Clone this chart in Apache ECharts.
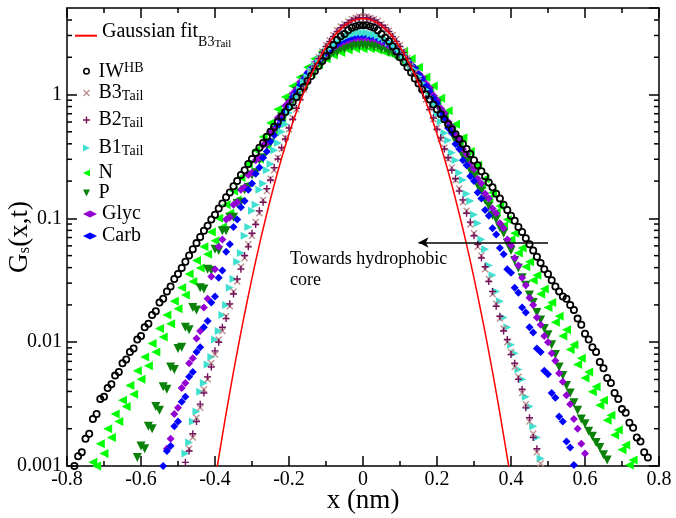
<!DOCTYPE html>
<html>
<head>
<meta charset="utf-8">
<script src="https://cdn.jsdelivr.net/npm/echarts@6/dist/echarts.min.js"></script>
<style>
html, body { margin: 0; background: #fff; }
#chart { width: 676px; height: 518px; }
</style>
</head>
<body>
<div id="chart"></div>
<script>
"use strict"

// sample positions (nm), shared by every scatter set
const xs = [-0.80,-0.79,-0.78,-0.77,-0.76,-0.75,-0.74,-0.73,-0.72,-0.71,
    -0.70,-0.69,-0.68,-0.67,-0.66,-0.65,-0.64,-0.63,-0.62,-0.61,
    -0.60,-0.59,-0.58,-0.57,-0.56,-0.55,-0.54,-0.53,-0.52,-0.51,
    -0.50,-0.49,-0.48,-0.47,-0.46,-0.45,-0.44,-0.43,-0.42,-0.41,
    -0.40,-0.39,-0.38,-0.37,-0.36,-0.35,-0.34,-0.33,-0.32,-0.31,
    -0.30,-0.29,-0.28,-0.27,-0.26,-0.25,-0.24,-0.23,-0.22,-0.21,
    -0.20,-0.19,-0.18,-0.17,-0.16,-0.15,-0.14,-0.13,-0.12,-0.11,
    -0.10,-0.09,-0.08,-0.07,-0.06,-0.05,-0.04,-0.03,-0.02,-0.01,
    0,0.01,0.02,0.03,0.04,0.05,0.06,0.07,0.08,0.09,
    0.10,0.11,0.12,0.13,0.14,0.15,0.16,0.17,0.18,0.19,
    0.20,0.21,0.22,0.23,0.24,0.25,0.26,0.27,0.28,0.29,
    0.30,0.31,0.32,0.33,0.34,0.35,0.36,0.37,0.38,0.39,
    0.40,0.41,0.42,0.43,0.44,0.45,0.46,0.47,0.48,0.49,
    0.50,0.51,0.52,0.53,0.54,0.55,0.56,0.57,0.58,0.59,
    0.60,0.61,0.62,0.63,0.64,0.65,0.66,0.67,0.68,0.69,
    0.70,0.71,0.72,0.73,0.74,0.75,0.76,0.77,0.78,0.79,0.80];

// IW^HB, starts at x = -0.78
const iwFrom = -0.78;
const iwVals = [0.00100,0.00120,0.00129,0.00166,0.00182,0.0024,0.00263,0.00347,0.00363,0.00427,
    0.00457,0.00537,0.00575,0.00676,0.00724,0.00832,0.00891,0.0105,0.0112,0.0132,
    0.0141,0.0166,0.0178,0.0209,0.0224,0.0257,0.0282,0.0324,0.0355,0.0398,
    0.0447,0.0501,0.0562,0.0631,0.0708,0.0794,0.0871,0.0977,0.107,0.120,
    0.132,0.148,0.162,0.182,0.200,0.224,0.245,0.275,0.302,0.339,
    0.372,0.407,0.457,0.501,0.550,0.603,0.661,0.724,0.794,0.871,
    0.955,1.047,1.148,1.288,1.413,1.549,1.698,1.862,2.042,2.291,
    2.512,2.754,2.951,3.090,3.311,3.467,3.548,3.631,
    3.631,
    3.63,3.55,3.47,3.31,3.09,2.88,2.69,2.45,2.24,2.00,
    1.82,1.66,1.51,1.35,1.23,1.10,1.00,0.912,0.832,0.759,
    0.692,0.631,0.575,0.525,0.479,0.437,0.398,0.363,0.331,0.295,
    0.269,0.240,0.219,0.195,0.178,0.158,0.145,0.129,0.117,0.105,
    0.0955,0.0851,0.0776,0.0692,0.0617,0.0550,0.0490,0.0437,0.0389,0.0355,
    0.0316,0.0282,0.0257,0.0234,0.0224,0.0200,0.0182,0.0155,0.0138,0.0117,
    0.0105,0.00912,0.00832,0.00692,0.00617,0.00513,0.00468,0.00389,0.00347,0.00288,
    0.00269,0.00224,0.00204,0.0017,0.00158,0.00129,0.00117,0.00095];

const b3From = -0.48;
const b3Vals = [0.00098,0.00138,0.0017,0.00245,0.00295,0.00417,0.00501,0.00676,0.00794,0.0105,
    0.0123,0.0162,0.0195,0.0257,0.0309,0.0407,0.0479,0.0617,0.0724,0.0933,
    0.110,0.141,0.166,0.209,0.245,0.309,0.363,0.447,0.525,0.646,
    0.759,0.933,1.10,1.29,1.51,1.74,2.00,2.24,2.51,2.75,
    3.02,3.31,3.55,3.72,3.89,4.07,4.17,4.27,
    4.27,
    4.27,4.17,4.07,3.94,3.72,3.51,3.27,3.02,2.79,2.51,
    2.24,1.97,1.74,1.50,1.29,1.10,0.912,0.776,0.631,0.537,
    0.437,0.372,0.302,0.257,0.204,0.174,0.135,0.115,0.0891,0.0759,
    0.0589,0.0501,0.0389,0.0324,0.0245,0.0204,0.0155,0.0129,0.0100,0.00832,
    0.00631,0.00525,0.00389,0.00316,0.00229,0.00182,0.00129,0.00105];

const b2From = -0.48;
const b2Vals = [0.00107,0.00132,0.00182,0.00229,0.00316,0.00389,0.00525,0.00631,0.00851,0.0100,
    0.0132,0.0155,0.0204,0.0245,0.0324,0.0389,0.0501,0.0589,0.0759,0.0891,
    0.115,0.135,0.174,0.204,0.257,0.302,0.372,0.437,0.537,0.631,
    0.776,0.912,1.10,1.26,1.48,1.70,1.95,2.19,2.45,2.69,
    2.95,3.24,3.47,3.63,3.80,3.98,4.07,4.17,
    4.17,
    4.17,4.07,3.98,3.80,3.63,3.47,3.24,2.95,2.69,2.45,
    2.19,1.95,1.70,1.48,1.26,1.07,0.933,0.759,0.646,0.525,
    0.447,0.363,0.309,0.245,0.209,0.166,0.141,0.110,0.0933,0.0724,
    0.0617,0.0479,0.0407,0.0309,0.0257,0.0195,0.0162,0.0123,0.0105,0.00794,
    0.00676,0.00501,0.00417,0.00295,0.00245,0.0017,0.00138,0.00098];

const b1From = -0.49;
const b1Vals = [0.00093,0.00126,0.00155,0.00229,0.00275,0.00398,0.00468,0.00661,0.00759,0.0105,
    0.0123,0.0166,0.0200,0.0275,0.0324,0.0447,0.0525,0.0724,0.0851,0.115,
    0.129,0.170,0.191,0.245,0.275,0.355,0.407,0.501,0.575,0.708,
    0.813,0.955,1.10,1.26,1.38,1.55,1.74,1.91,2.04,2.21,
    2.37,2.51,2.66,2.79,2.88,2.99,3.05,3.13,3.16,
    3.16,
    3.16,3.09,3.05,2.99,2.88,2.79,2.63,2.51,2.34,2.21,
    2.04,1.88,1.72,1.57,1.40,1.24,1.10,0.955,0.832,0.692,
    0.603,0.490,0.427,0.339,0.295,0.234,0.204,0.158,0.138,0.107,
    0.0912,0.0676,0.0562,0.0417,0.0347,0.0257,0.0214,0.0158,0.0132,0.00955,
    0.00813,0.00603,0.00501,0.00363,0.00302,0.00209,0.0017,0.00115,0.00091];

const nFrom = -0.73;
const nVals = [0.00107,0.00100,0.00151,0.00126,0.0020,0.0017,0.00263,0.00229,0.00339,0.00302,
    0.00447,0.0038,0.00589,0.00501,0.00759,0.00646,0.00977,0.00832,0.0129,0.0110,
    0.0166,0.0141,0.0214,0.0186,0.0275,0.0240,0.0355,0.0309,0.0457,0.0398,
    0.0589,0.0513,0.0776,0.0661,0.100,0.0851,0.129,0.110,0.166,0.141,
    0.214,0.182,0.275,0.234,0.355,0.302,0.457,0.389,0.589,0.501,
    0.759,0.646,0.955,0.813,1.17,1.02,1.38,1.23,1.66,1.48,
    1.95,1.74,2.24,1.95,2.40,2.09,2.57,2.19,2.69,2.29,
    2.75,2.34,2.82,
    2.34,
    2.75,2.34,2.75,2.29,2.69,2.19,2.57,2.09,2.40,1.95,
    2.24,1.74,1.95,1.48,1.66,1.23,1.38,1.02,1.17,0.832,
    0.933,0.661,0.741,0.513,0.575,0.398,0.447,0.309,0.347,0.240,
    0.269,0.186,0.209,0.145,0.162,0.112,0.126,0.0871,0.0977,0.0676,
    0.0759,0.0525,0.0575,0.0407,0.0447,0.0316,0.0347,0.0245,0.0269,0.0191,
    0.0209,0.0145,0.0162,0.0112,0.0126,0.00871,0.00955,0.00661,0.00741,0.00513,
    0.00575,0.00398,0.00437,0.00309,0.00339,0.00234,0.00257,0.00178,0.00195,0.00135,
    0.00148,0.00102,0.00112];

const pFrom = -0.62;
const pVals = [0.00095,0.00117,0.00145,0.00138,0.00209,0.0020,0.00302,0.00282,0.00437,0.00417,
    0.00631,0.00603,0.00891,0.00912,0.0132,0.0126,0.0191,0.0182,0.0275,0.0269,
    0.0389,0.0380,0.0562,0.0550,0.0794,0.0794,0.102,0.102,0.132,0.135,
    0.170,0.178,0.224,0.234,0.295,0.309,0.389,0.407,0.513,0.537,
    0.661,0.692,0.851,0.891,1.07,1.12,1.32,1.35,1.55,1.58,
    1.80,1.82,2.00,2.04,2.19,2.21,2.34,2.34,2.45,2.43,
    2.51,2.48,
    2.51,
    2.48,2.51,2.43,2.45,2.34,2.34,2.21,2.19,2.04,2.00,
    1.84,1.78,1.62,1.55,1.38,1.30,1.14,1.06,0.912,0.841,
    0.716,0.653,0.556,0.501,0.422,0.380,0.320,0.288,0.243,0.219,
    0.184,0.166,0.140,0.126,0.106,0.0977,0.0841,0.0759,0.0631,0.0550,
    0.0457,0.0398,0.0331,0.0288,0.0240,0.0209,0.0174,0.0151,0.0129,0.0115,
    0.00955,0.00794,0.00631,0.00537,0.00447,0.00389,0.00324,0.00282,0.0024,0.00219,
    0.00191,0.00174,0.00155,0.00141,0.00123,0.00112,0.00098];

const glycFrom = -0.54;
const glycVals = [0.00091,0.00138,0.00166,0.00263,0.00295,0.00427,0.00468,0.00676,0.00741,0.0107,
    0.0123,0.0191,0.0224,0.0339,0.0389,0.0589,0.0676,0.0977,0.102,0.129,
    0.135,0.170,0.178,0.224,0.234,0.295,0.309,0.389,0.407,0.501,
    0.525,0.646,0.676,0.813,0.871,1.02,1.10,1.26,1.35,1.51,
    1.62,1.78,1.88,2.04,2.14,2.29,2.40,2.51,2.60,2.69,
    2.75,2.82,2.85,2.88,
    2.88,
    2.88,2.85,2.82,2.75,2.66,2.60,2.48,2.40,2.26,2.16,
    2.02,1.91,1.74,1.64,1.48,1.38,1.23,1.13,0.989,0.902,
    0.776,0.708,0.603,0.550,0.468,0.427,0.363,0.331,0.275,0.251,
    0.209,0.191,0.158,0.145,0.120,0.110,0.0912,0.0832,0.0676,0.0603,
    0.0479,0.0417,0.0331,0.0288,0.0229,0.0200,0.0158,0.0138,0.0112,0.0100,
    0.00813,0.00708,0.00562,0.00479,0.00372,0.00316,0.0024,0.002,0.00151,0.00126,
    0.00095];

const carbFrom = -0.54;
const carbVals = [0.00100,0.00132,0.00145,0.00209,0.00229,0.00331,0.00363,0.00525,0.00575,0.00832,
    0.00912,0.0132,0.0148,0.0209,0.0234,0.0331,0.0380,0.0537,0.0617,0.0851,
    0.0977,0.123,0.138,0.170,0.191,0.229,0.257,0.309,0.347,0.417,
    0.468,0.562,0.617,0.741,0.813,0.955,1.05,1.20,1.32,1.48,
    1.58,1.76,1.88,2.04,2.19,2.32,2.45,2.57,2.69,2.79,
    2.88,2.92,2.99,3.02,
    3.02,
    3.02,2.95,2.95,2.85,2.79,2.69,2.57,2.45,2.34,2.19,
    2.04,1.91,1.74,1.62,1.45,1.33,1.17,1.07,0.933,0.851,
    0.708,0.646,0.537,0.490,0.398,0.363,0.295,0.269,0.219,0.200,
    0.162,0.145,0.117,0.105,0.0832,0.0741,0.0575,0.0513,0.0389,0.0363,
    0.0275,0.0251,0.0191,0.0174,0.0132,0.0120,0.00891,0.00832,0.00589,0.00550,
    0.00389,0.00355,0.00251,0.00229,0.00158,0.00141,0.00102,0.00089];

// Gaussian fit to B3_Tail
const fitX = [-0.40,-0.38,-0.36,-0.34,-0.32,-0.30,-0.28,-0.26,-0.24,-0.22,-0.20,-0.18,-0.16,-0.14,-0.12,-0.10,-0.08,-0.06,-0.04,-0.02,
    0,0.02,0.04,0.06,0.08,0.10,0.12,0.14,0.16,0.18,0.20,0.22,0.24,0.26,0.28,0.30,0.32,0.34,0.36,0.38,0.40];
const fitVals = [0.00077,0.00177,0.00393,0.00834,0.0169,0.0329,0.0613,0.109,0.187,0.306,0.481,0.723,1.04,1.44,1.90,2.40,2.92,3.39,3.77,4.02,
    4.11,4.02,3.77,3.39,2.92,2.40,1.90,1.44,1.04,0.723,0.481,0.306,0.187,0.109,0.0613,0.0329,0.0169,0.00834,0.00393,0.00177,0.00077];

const yMinor = [0.002,0.003,0.004,0.005,0.006,0.007,0.008,0.009,
    0.02,0.03,0.04,0.05,0.06,0.07,0.08,0.09,
    0.2,0.3,0.4,0.5,0.6,0.7,0.8,0.9,
    2,3,4];

// annotation arrow, in data units
const arrowY = 0.0638, arrowFrom = 0.5, arrowTo = 0.15;

const FONT = "Liberation Serif";
const ring = "path://M5,0A5,5 0 1,1 4.99,0ZM5,2.2A2.8,2.8 0 1,0 5.01,2.2Z";
const xMark = "path://M0,1.4L1.4,0L5,3.6L8.6,0L10,1.4L6.4,5L10,8.6L8.6,10L5,6.4L1.4,10L0,8.6L3.6,5Z";
const plus = "path://M4,0H6V4H10V6H6V10H4V6H0V4H4Z";
const triR = "path://M0,0L10,5L0,10Z";
const triL = "path://M10,0L0,5L10,10Z";
const triD = "path://M0,0L10,0L5,10Z";

function pts(from, vals)
{
    const i0 = xs.findIndex(x => Math.abs(x - from) < 1e-9);
    return vals.map((v, i) => [xs[i0 + i], v]);
}

function scat(name, from, vals, symbol, size, color)
{
    return {
        name, type: "scatter", data: pts(from, vals),
        symbol, symbolSize: size,
        itemStyle: { color, opacity: 1 },
        clip: true, silent: true
    };
}

const black = { color: "#000", width: 1.5 };
const xAxisBase = {
    type: "value", min: -0.8, max: 0.8, interval: 0.2,
    axisLine: { onZero: false, lineStyle: black },
    axisTick: { inside: true, length: 10, lineStyle: black },
    minorTick: { show: true, splitNumber: 2, length: 5, lineStyle: black },
    splitLine: { show: false }
};
const yAxisBase = {
    type: "log", logBase: 10, min: 0.001, max: 5,
    axisLine: { onZero: false, lineStyle: black },
    axisTick: { inside: true, length: 10, lineStyle: black },
    splitLine: { show: false }
};

const txt = { fontFamily: FONT, color: "#000" };
const legendBase = {
    orient: "vertical", left: 83, padding: 0, itemWidth: 14, itemHeight: 7,
    selectedMode: false,
    textStyle: Object.assign({ fontSize: 20 }, txt)
};
const subRich = {
    m: Object.assign({ fontSize: 20, lineHeight: 20, verticalAlign: "top", padding: [0, 0, 6, 0] }, txt),
    s: Object.assign({ fontSize: 14, lineHeight: 14, verticalAlign: "bottom" }, txt)
};
function leg(name, top, extra)
{
    return Object.assign({}, legendBase, { top, data: [name] }, extra || {});
}
const legends = [
    leg({ name: "Gaussian fit", icon: "rect" }, 21.7, {
        left: 75, itemWidth: 22, itemHeight: 2,
        formatter: "{m|Gaussian fit}{b|B3}{t|Tail}",
        textStyle: Object.assign({ fontSize: 20, rich: {
            m: Object.assign({ fontSize: 20, lineHeight: 20, verticalAlign: "top", padding: [0, 0, 10, 0] }, txt),
            b: Object.assign({ fontSize: 14, lineHeight: 28, verticalAlign: "bottom" }, txt),
            t: Object.assign({ fontSize: 11, lineHeight: 8, verticalAlign: "bottom" }, txt)
        } }, txt)
    }),
    leg("IW", 55.3, {
        formatter: "{m|IW}{p|HB}",
        textStyle: Object.assign({ fontSize: 20, rich: {
            m: Object.assign({ fontSize: 20, lineHeight: 20, verticalAlign: "bottom", padding: [6, 0, 0, 0] }, txt),
            p: Object.assign({ fontSize: 14, lineHeight: 14, verticalAlign: "top" }, txt)
        } }, txt)
    }),
    leg("B3", 83, { formatter: "{m|B3}{s|Tail}", textStyle: Object.assign({ fontSize: 20, rich: subRich }, txt) }),
    leg("B2", 110, { formatter: "{m|B2}{s|Tail}", textStyle: Object.assign({ fontSize: 20, rich: subRich }, txt) }),
    leg("B1", 138, { formatter: "{m|B1}{s|Tail}", textStyle: Object.assign({ fontSize: 20, rich: subRich }, txt) }),
    leg("N", 163),
    leg("P", 183),
    leg("Glyc", 204),
    leg("Carb", 226)
];

const option = {
    animation: false,
    backgroundColor: "#fff",
    grid: { left: 67, right: 17, top: 8, bottom: 52, outerBoundsMode: "none", containLabel: false },
    legend: legends,
    xAxis: [
        Object.assign({}, xAxisBase, {
            position: "bottom",
            axisLabel: Object.assign({ fontSize: 20, margin: 4 }, txt),
            name: "x (nm)", nameLocation: "middle", nameGap: 21, nameMoveOverlap: false,
            nameTextStyle: Object.assign({ fontSize: 27 }, txt)
        }),
        Object.assign({}, xAxisBase, { position: "top", axisLabel: { show: false } })
    ],
    yAxis: [
        Object.assign({}, yAxisBase, {
            position: "left",
            axisLabel: Object.assign({ fontSize: 20, margin: 5, showMaxLabel: false,
                formatter: v => String(+(+v).toPrecision(6)) }, txt),
            name: "{a|G}{s|s}{a|(x,t)}", nameLocation: "middle", nameRotate: 90, nameGap: 34,
            nameMoveOverlap: false,
            nameTextStyle: { rich: {
                a: Object.assign({ fontSize: 27, lineHeight: 27, verticalAlign: "top", padding: [0, 0, 10, 0] }, txt),
                s: Object.assign({ fontSize: 17, lineHeight: 16, verticalAlign: "bottom" }, txt)
            } }
        }),
        Object.assign({}, yAxisBase, { position: "right", axisLabel: { show: false } })
    ],
    graphic: [{
        type: "text", left: 290, top: 249,
        style: { text: "Towards hydrophobic\ncore", font: `18px "${FONT}"`, fill: "#000", lineHeight: 21 }
    }],
    series: [
        {
            name: "yminor", type: "custom", silent: true, clip: false, z: 5,
            data: yMinor.map(v => [0, v]),
            renderItem: (params, api) =>
            {
                const cs = params.coordSys;
                const y = api.coord([0, api.value(1)])[1];
                const st = { stroke: "#000", lineWidth: 1.5 };
                return { type: "group", children: [
                    { type: "line", shape: { x1: cs.x, y1: y, x2: cs.x + 5, y2: y }, style: st },
                    { type: "line", shape: { x1: cs.x + cs.width - 5, y1: y, x2: cs.x + cs.width, y2: y }, style: st }
                ] };
            }
        },
        scat("N", nFrom, nVals, triL, 9, "#00ff00"),
        scat("P", pFrom, pVals, triD, 9, "#0a820a"),
        scat("Glyc", glycFrom, glycVals, "diamond", 8, "#9400d3"),
        scat("Carb", carbFrom, carbVals, "diamond", 8, "#0000ff"),
        scat("B1", b1From, b1Vals, triR, 8, "#40e0d0"),
        scat("B3", b3From, b3Vals, xMark, 7, "#bc8f8f"),
        scat("B2", b2From, b2Vals, plus, 7, "#74105a"),
        scat("IW", iwFrom, iwVals, ring, 8, "#000"),
        {
            name: "Gaussian fit", type: "line", smooth: true, showSymbol: false, symbol: "none",
            data: fitX.map((x, i) => [x, fitVals[i]]),
            lineStyle: { color: "#ff0000", width: 1.5 },
            itemStyle: { color: "#ff0000" },
            clip: true, silent: true,
            markLine: {
                silent: true, symbol: ["none", "arrow"], symbolSize: [8, 10],
                lineStyle: { color: "#000", width: 1.5, type: "solid" },
                label: { show: false },
                data: [[{ coord: [arrowFrom, arrowY] }, { coord: [arrowTo, arrowY] }]]
            }
        }
    ]
};

const chart = echarts.init(document.getElementById("chart"), null, { renderer: "canvas" });
chart.setOption(option);
</script>
</body>
</html>
